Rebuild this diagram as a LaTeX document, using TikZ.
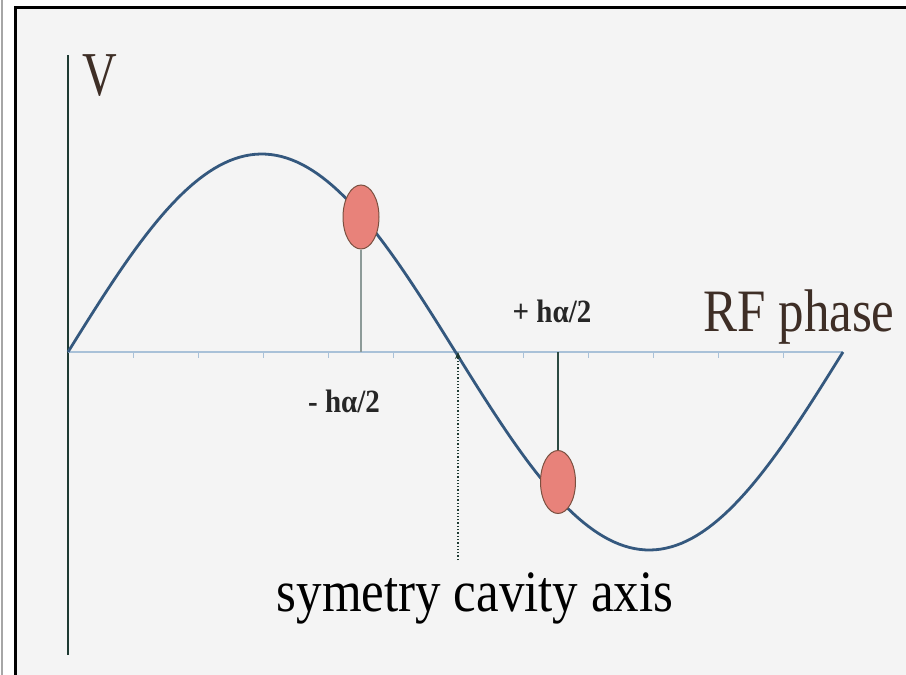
\documentclass[tikz,border=0pt]{standalone}
\usepackage{fontspec}
\setmainfont{Liberation Serif}
\usetikzlibrary{shapes.geometric,arrows.meta}
\definecolor{bgc}{HTML}{F4F4F4}
\definecolor{curvec}{HTML}{34587E}
\definecolor{haxis}{HTML}{A9C1D8}
\definecolor{vaxis}{HTML}{1E3A32}
\definecolor{bunch}{HTML}{E8827A}
\definecolor{bunchd}{HTML}{7A5040}
\definecolor{brownt}{HTML}{3E2E26}
\definecolor{stemg}{HTML}{8C9A98}
\definecolor{stemd}{HTML}{2C4A42}
\tikzset{
  bunchnode/.style={ellipse, draw=bunchd, line width=1pt, fill=bunch, inner sep=0pt},
  lbl/.style={inner sep=0pt, anchor=base},
  tickmark/.style={draw=haxis, line width=0.8pt},
}
\begin{document}
\begin{tikzpicture}[x=1pt,y=-1pt]
\useasboundingbox (0,0) rectangle (906,675);
\fill[white] (0,0) rectangle (906,675);
\fill[bgc] (15,7) rectangle (906,675);
\draw[line width=2pt, gray!70] (1.5,0) -- (1.5,675);
\draw[line width=2.5pt, black] (15.5,675) -- (15.5,7.5) -- (906,7.5);
% axes
\coordinate (o) at (68,352);
\coordinate (xend) at (843,352);
\coordinate (vtop) at (68,55);
\coordinate (vbot) at (68,655);
\draw[vaxis, line width=2.2pt] (vtop) -- (vbot);
\draw[haxis, line width=2.5pt] (o) -- (xend);
\foreach \t in {133,198,263,328,393,523,588,653,718,783}
  \draw[tickmark] (\t,352) -- (\t,358);
% sine
\draw[curvec, line width=2.8pt] plot[domain=68:843, samples=150] (\x, {352-198*sin((\x-68)/775*360)});
% stems
\coordinate (s1) at (361,352);
\coordinate (s2) at (558,352);
\node[bunchnode, minimum width=36pt, minimum height=64pt] (b1) at (361,217) {};
\node[bunchnode, minimum width=35pt, minimum height=63pt] (b2) at (558,482) {};
\draw[stemg, line width=1.3pt] (b1.south) -- (s1);
\draw[stemd, line width=1.6pt] (s2) -- (b2.north);
% symmetry axis
\coordinate (zc) at (458,352);
\coordinate (zb) at (458,560);
\draw[vaxis, line width=1.3pt, dotted, -{Stealth[length=7pt,width=6pt]}] (zb) -- (zc);
% labels
\node[lbl, text=brownt, font=\fontsize{48}{48}\selectfont] (vl) at (100,95) {\scalebox{1}[1.3]{V}};
\node[lbl, text=brownt, font=\fontsize{51}{51}\selectfont] (rf) at (799,331) {\scalebox{1}[1.18]{RF phase}};
\node[lbl, text=black, font=\fontsize{51}{51}\selectfont] (sym) at (475,611) {\scalebox{1}[1.15]{symetry cavity axis}};
\node[lbl, text=black!85, font=\fontsize{29}{29}\selectfont\bfseries] (mh) at (344,412) {\scalebox{1}[1.12]{- hα/2}};
\node[lbl, text=black!85, font=\fontsize{29}{29}\selectfont\bfseries] (ph) at (552,322) {\scalebox{1}[1.12]{+ hα/2}};
\end{tikzpicture}
\end{document}
